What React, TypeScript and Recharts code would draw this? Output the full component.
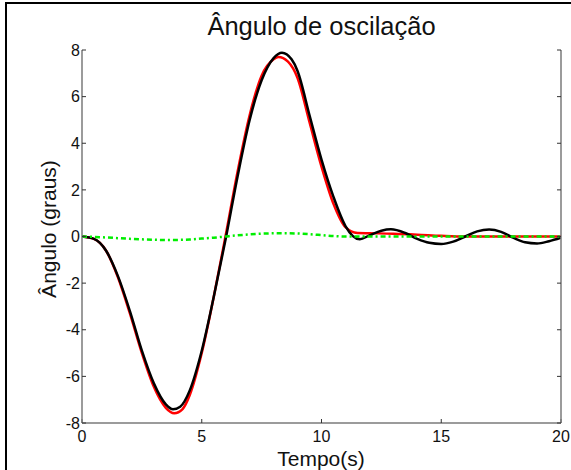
import React from 'react';
import { LineChart, Line, XAxis, YAxis } from 'recharts';

// Oscillation angle (degrees) over time (s) for three responses.
const redTime = [0, 0.5, 1, 1.5, 2, 2.5, 3, 3.5, 3.85, 4.2, 4.5, 5, 5.5, 6, 6.5, 7, 7.5, 8, 8.2, 8.6, 9, 9.5, 10, 10.5, 11, 11.5, 12, 13, 14, 15, 16, 17, 18, 19, 20];
const redAngle = [0, -0.1, -0.6, -1.75, -3.3, -5.0, -6.45, -7.35, -7.58, -7.4, -6.8, -5.0, -2.6, 0.05, 2.8, 5.2, 6.9, 7.6, 7.7, 7.5, 6.8, 4.9, 3.0, 1.4, 0.4, 0.15, 0.14, 0.12, 0.08, 0.03, 0.0, 0.0, 0.0, 0.0, 0.0];

const blackTime = [0, 0.5, 1, 1.5, 2, 2.5, 3, 3.5, 3.8, 4.1, 4.5, 5, 5.5, 6, 6.5, 7, 7.5, 8, 8.35, 8.75, 9, 9.5, 10, 10.5, 11, 11.6, 12, 12.5, 12.9, 13.5, 14, 14.5, 15, 15.5, 16, 16.5, 17, 17.5, 18, 18.5, 19, 19.5, 20];
const blackAngle = [0, -0.1, -0.6, -1.7, -3.2, -4.9, -6.3, -7.2, -7.41, -7.3, -6.6, -4.9, -2.6, -0.1, 2.6, 5.0, 6.7, 7.65, 7.88, 7.6, 7.1, 5.2, 3.3, 1.7, 0.45, -0.12, 0.05, 0.25, 0.31, 0.15, -0.1, -0.27, -0.32, -0.22, 0.0, 0.22, 0.3, 0.2, -0.05, -0.25, -0.3, -0.2, -0.05];

const greenTime = [0, 1, 2, 3, 3.7, 4.5, 5, 5.5, 6, 6.5, 7, 7.5, 8.4, 9, 9.5, 10, 10.5, 11, 12, 14, 16, 18, 20];
const greenAngle = [0, -0.04, -0.1, -0.14, -0.15, -0.13, -0.09, -0.05, 0, 0.05, 0.09, 0.12, 0.14, 0.13, 0.1, 0.06, 0.02, 0, 0, 0, 0, 0, 0];

const xTicks = [0, 5, 10, 15, 20];
const yTicks = [-8, -6, -4, -2, 0, 2, 4, 6, 8];

const zip = (t: number[], v: number[]) => t.map((time, i) => ({ time, angle: v[i] }));
const redData = zip(redTime, redAngle);
const blackData = zip(blackTime, blackAngle);
const greenData = zip(greenTime, greenAngle);

const FONT = '"Liberation Sans", Arial, Helvetica, sans-serif';
const tickStyle = { fontFamily: FONT, fontSize: 16, fill: '#111' };
const noLabel = () => <g />;

export default function App() {
  return (
    <div style={{ position: 'absolute', left: 0, top: 0, width: 571, height: 470, background: '#fff', fontFamily: FONT }}>
      {/* page frame */}
      <div style={{ position: 'absolute', left: 5, top: 2, width: 2, height: 468, background: '#000' }} />
      <div style={{ position: 'absolute', left: 5, top: 2, width: 566, height: 2, background: '#000' }} />

      <div style={{ position: 'absolute', left: 0, width: 643, top: 11, textAlign: 'center', fontSize: 25.5, color: '#111', lineHeight: '30px', whiteSpace: 'nowrap' }}>
        Ângulo de oscilação
      </div>
      <div style={{ position: 'absolute', left: 0, width: 642, top: 449, textAlign: 'center', fontSize: 21, color: '#111', lineHeight: '20px' }}>
        Tempo(s)
      </div>
      <div
        style={{
          position: 'absolute', left: 49, top: 229, width: 200, height: 24, marginLeft: -100, marginTop: -12,
          textAlign: 'center', fontSize: 21, lineHeight: '24px', color: '#111', transform: 'rotate(-90deg)', whiteSpace: 'nowrap',
        }}
      >
        Ângulo (graus)
      </div>

      <div style={{ position: 'absolute', left: 0, top: 0 }}>
        <LineChart width={571} height={470} margin={{ top: 50, right: 0, bottom: 0, left: 0 }}>
          <XAxis
            dataKey="time" type="number" domain={[0, 20]} ticks={xTicks} height={47}
            tickSize={-4} tickMargin={12} tick={tickStyle}
            axisLine={{ stroke: '#7a7a7a', strokeWidth: 1.5 }} tickLine={{ stroke: '#333' }}
            allowDataOverflow
          />
          <XAxis
            xAxisId="top" orientation="top" dataKey="time" type="number" domain={[0, 20]} ticks={xTicks} height={0}
            tickSize={-4} tick={noLabel}
            axisLine={{ stroke: '#000', strokeWidth: 1 }} tickLine={{ stroke: '#333' }}
            allowDataOverflow
          />
          <YAxis
            type="number" domain={[-8, 8]} ticks={yTicks} width={82}
            tickSize={-4} tickMargin={6} tick={tickStyle}
            axisLine={{ stroke: '#7a7a7a', strokeWidth: 1.5 }} tickLine={{ stroke: '#333' }}
            allowDataOverflow
          />
          <YAxis
            yAxisId="right" orientation="right" type="number" domain={[-8, 8]} ticks={yTicks} width={10}
            tickSize={-4} tick={noLabel}
            axisLine={{ stroke: '#7a7a7a', strokeWidth: 1.5 }} tickLine={{ stroke: '#333' }}
            allowDataOverflow
          />
          <Line data={redData} dataKey="angle" type="monotone" stroke="#ff0000" strokeWidth={2.5} dot={false} isAnimationActive={false} />
          <Line data={blackData} dataKey="angle" type="monotone" stroke="#000000" strokeWidth={2.5} dot={false} isAnimationActive={false} />
          <Line data={greenData} dataKey="angle" type="monotone" stroke="#00ee00" strokeWidth={2.5} strokeDasharray="5 3 2 3" dot={false} isAnimationActive={false} />
        </LineChart>
      </div>
    </div>
  );
}
